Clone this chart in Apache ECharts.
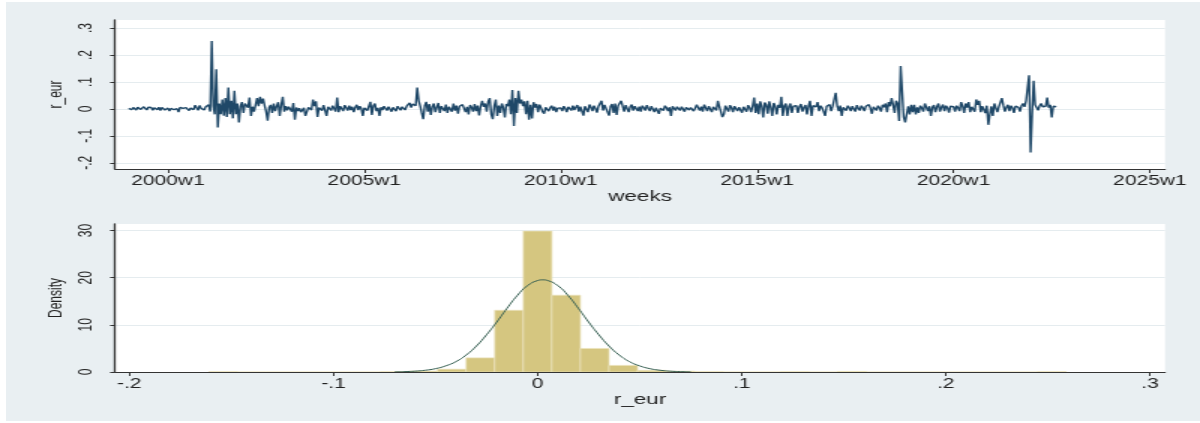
<!DOCTYPE html>
<html>
<head>
<meta charset="utf-8">
<script src="https://cdn.jsdelivr.net/npm/echarts@6/dist/echarts.min.js"></script>
<style>
  html, body { margin: 0; padding: 0; background: #fff; }
  #panel { position: absolute; left: 6px; top: 2px; width: 1194px; height: 419px; background: #e9eff2; }
  /* the reference is a horizontally stretched Stata export, so the chart is drawn narrow and widened */
  #chart { position: absolute; left: 0; top: 0; width: 800px; height: 423px; transform: scaleX(1.5); transform-origin: 0 0; }
</style>
</head>
<body>
<div id="panel"></div>
<div id="chart"></div>
<script>
// weekly EUR returns, every 2nd week, 1999w1 .. 2022w33
const startWeek = 2028 // 1999w1 in Stata %tw units
const stepWeeks = 2
const r_eur = [
  // 1999
  .002,.004,-.003,.005,.001,-.004,.006,.002,-.002,.003,.008,.004,-.004,.006,.012,.005,-.005,.004,.007,-.003,.006,-.006,.005,.002,-.004,.003,
  // 2000
  .003,-.008,.002,.005,-.003,.004,.001,-.012,.006,.012,.002,-.004,.005,.001,-.006,.003,.002,-.003,.014,.004,-.005,.013,.002,.006,-.004,.008,
  // 2001
  .006,.015,-.01,.252,.01,-.02,.147,-.069,.02,-.02,.035,-.025,.04,-.03,.079,-.02,.03,-.035,.067,-.02,.02,-.05,.01,.025,-.015,.02,
  // 2002
  .018,.005,.042,-.026,.008,-.01,.015,.04,.01,.045,.02,.038,.012,-.01,-.044,.005,.015,-.015,.02,-.008,.01,.025,-.026,.015,.045,-.01,
  // 2003
  .01,-.005,.008,.012,-.01,.022,-.04,.005,-.008,.003,-.012,-.005,.004,-.026,-.01,.006,.012,-.004,.035,.01,.028,-.03,.005,.012,-.006,.014,
  // 2004
  .016,-.026,.008,.004,-.006,.012,.002,-.01,.042,-.012,.01,.006,-.008,.014,.004,-.006,.012,-.004,.008,-.012,.006,.015,-.004,.01,.002,-.026,
  // 2005
  .004,.008,-.006,.01,.026,-.022,.012,.02,-.008,.004,-.026,.006,-.004,.01,.003,-.006,.008,.004,-.01,.006,.002,-.008,.01,.004,-.005,.008,
  // 2006
  .006,-.004,.01,.015,.022,.005,.018,.025,.012,.079,.03,.01,-.015,-.038,.012,.026,-.01,.018,-.022,.008,.02,-.012,.006,.022,-.015,.01,
  // 2007
  .012,-.008,.016,-.015,.008,.014,-.01,.02,-.006,.012,-.018,.01,.004,.016,.022,-.012,.008,-.02,.014,.006,-.01,.018,-.008,.012,-.024,.01,
  // 2008
  .03,.008,.02,-.01,.028,.04,-.02,-.038,.01,.035,-.026,.012,-.015,.02,.005,-.032,.018,.01,.035,-.02,.07,-.063,.04,-.015,.067,.02,
  // 2009
  .035,.01,.028,-.02,.03,-.04,.015,-.035,.025,.005,.018,-.012,.016,.004,-.01,-.018,.006,.01,-.008,.004,.012,-.006,.008,-.012,.003,.01,
  // 2010
  .004,-.008,.01,.002,-.012,.008,.005,-.006,.012,-.004,.006,.014,-.01,.008,.015,-.025,.01,.004,-.012,.016,.006,-.008,.012,.002,-.014,.01,
  // 2011
  .012,.03,-.006,.015,.008,-.012,-.025,.01,.018,-.015,.02,-.022,.012,.006,.03,.024,-.01,.014,.02,-.012,.008,.016,-.006,.01,.012,-.008,
  // 2012
  .008,-.01,.012,.004,-.006,.014,.002,-.008,.01,.006,-.012,.004,.008,-.018,.003,.01,-.006,.012,.004,-.008,.006,-.026,.01,.004,-.006,.008,
  // 2013
  .004,-.006,.008,.002,-.01,.006,.01,-.004,.005,.012,-.008,.003,.016,.004,-.006,.008,-.01,.016,.004,-.008,.01,.006,-.012,.008,.014,-.006,
  // 2014
  .03,.008,-.01,-.03,-.02,.012,.006,-.01,.014,.004,-.012,.01,.015,-.008,.006,.012,-.014,.008,.01,-.01,.014,.004,-.012,.01,.042,-.015,
  // 2015
  .02,-.02,.028,.01,-.032,.024,.015,-.018,.028,.006,-.026,.022,.01,-.02,.015,.004,.045,-.026,.012,.02,-.026,.008,.02,-.015,.01,.006,
  // 2016
  .012,-.015,.008,.018,-.01,.006,.014,-.02,.01,.03,-.026,.012,.006,.008,.025,-.008,.012,.004,-.01,-.026,.01,.006,.016,-.008,.01,.004,
  // 2017
  .06,.01,-.008,.012,-.026,.006,.01,-.006,.012,.004,-.008,.01,.006,-.01,.014,.002,-.006,.012,.004,-.008,.01,.006,.016,.002,-.018,.008,
  // 2018
  .008,-.006,.012,.004,-.01,.015,.006,.02,-.012,.025,.01,.04,.015,-.015,.03,.02,-.045,.159,.063,-.03,-.05,-.055,.01,-.02,.015,-.012,
  // 2019
  .015,-.02,.006,-.015,.012,.004,-.01,.02,.018,-.008,.01,-.026,.006,.014,-.012,.008,.02,-.01,.006,.016,-.008,.012,.004,-.014,.01,.006,
  // 2020
  .008,-.01,.012,.004,-.008,.025,.01,-.015,.02,.005,.025,-.012,.008,.004,-.01,.035,.015,.03,-.012,.01,.006,-.015,.012,-.059,-.02,.01,
  // 2021
  -.026,.02,.004,-.012,.008,.01,.04,.012,-.01,.006,.015,-.008,.012,.004,-.015,.01,.016,.006,-.01,.012,.02,.008,.03,.025,.125,-.162,
  // 2022
  -.02,.104,.015,.01,-.005,.012,.02,.008,.015,.01,.042,.005,.015,-.032,.01,.004,.008
]
const weekTicks = [2080, 2340, 2600, 2860, 3120, 3380] // 2000w1 .. 2025w1
const rTicks = [-0.2, -0.1, 0, 0.1, 0.2, 0.3]

// histogram of r_eur: 30 bins
const binStart = -0.161
const binWidth = 0.014
const binDensity = [
  0.06, 0, 0, 0, 0, 0, 0.06, 0.2, 0.6, 3.0,
  13.1, 29.9, 16.3, 5.0, 1.4, 0.35, 0.17, 0.06, 0, 0,
  0.06, 0, 0.12, 0, 0, 0, 0, 0, 0, 0.06
]
const densityTicks = [0, 10, 20, 30]
const histTicks = [-0.2, -0.1, 0, 0.1, 0.2, 0.3]

// normal density overlay
const normX = [-0.07, -0.065, -0.06, -0.055, -0.05, -0.045, -0.04, -0.035, -0.03, -0.025, -0.02, -0.015, -0.01, -0.005, 0, 0.0025,
  0.005, 0.01, 0.015, 0.02, 0.025, 0.03, 0.035, 0.04, 0.045, 0.05, 0.055, 0.06, 0.065, 0.07, 0.075]
const normY = [0.04, 0.08, 0.18, 0.37, 0.71, 1.3, 2.2, 3.6, 5.5, 7.9, 10.6, 13.5, 16.2, 18.3, 19.4, 19.55,
  19.4, 18.3, 16.2, 13.5, 10.6, 7.9, 5.5, 3.6, 2.2, 1.3, 0.71, 0.37, 0.18, 0.08, 0.04]

const font = 'Liberation Sans'
const ink = '#222'
const axisInk = '#333'
const gridInk = '#e5ecef'

const stataNum = (v) => (v === 0 ? '0' : String(+v.toFixed(2)).replace(/^(-?)0\./, '$1.'))
const weekLabel = (v) => {
  const y = Math.floor(v / 52)
  return `${1960 + y}w${v - y * 52 + 1}`
}

const chart = echarts.init(document.getElementById('chart'), null, { renderer: 'canvas' })

const plotLeft = 76.7
const plotWidth = 700

const option = {
  animation: false,
  textStyle: { fontFamily: font },
  grid: [
    { left: plotLeft, top: 20, width: plotWidth, height: 149, show: true, backgroundColor: '#fff', borderWidth: 0, outerBoundsMode: 'none' },
    { left: plotLeft, top: 224, width: plotWidth, height: 148, show: true, backgroundColor: '#fff', borderWidth: 0, outerBoundsMode: 'none' },
  ],
  xAxis: [
    {
      gridIndex: 0,
      type: 'value',
      min: 2010,
      max: 3400,
      name: 'weeks',
      nameLocation: 'middle',
      nameGap: 12,
      nameTextStyle: { fontSize: 15, color: ink, fontFamily: font },
      axisLine: { show: true, onZero: false, lineStyle: { color: axisInk, width: 1.2 } },
      axisTick: { show: true, customValues: weekTicks, length: 4, lineStyle: { color: axisInk } },
      axisLabel: { customValues: weekTicks, formatter: weekLabel, fontSize: 14, margin: 5, color: ink, fontFamily: font },
      splitLine: { show: false },
    },
    {
      gridIndex: 1,
      type: 'value',
      min: -0.207,
      max: 0.3074,
      z: 5,
      name: 'r_eur',
      nameLocation: 'middle',
      nameGap: 10,
      nameTextStyle: { fontSize: 15, color: ink, fontFamily: font },
      axisLine: { show: true, onZero: false, lineStyle: { color: axisInk, width: 1.2 } },
      axisTick: { show: true, customValues: histTicks, length: 4, lineStyle: { color: axisInk } },
      axisLabel: { customValues: histTicks, formatter: stataNum, fontSize: 14, margin: 5, color: ink, fontFamily: font },
      splitLine: { show: false },
    },
  ],
  yAxis: [
    {
      gridIndex: 0,
      type: 'value',
      min: -0.223,
      max: 0.33,
      name: 'r_eur',
      nameLocation: 'middle',
      nameRotate: 90,
      nameGap: 25,
      nameTextStyle: { fontSize: 12, color: ink, fontFamily: font },
      axisLine: { show: true, onZero: false, lineStyle: { color: axisInk, width: 1.3 } },
      axisTick: { show: true, customValues: rTicks, length: 3.3, lineStyle: { color: axisInk } },
      axisLabel: { customValues: rTicks, rotate: 90, formatter: stataNum, fontSize: 12, margin: 13, color: ink, fontFamily: font },
      splitLine: { show: true, lineStyle: { color: gridInk, width: 1 } },
    },
    {
      gridIndex: 1,
      type: 'value',
      min: 0,
      max: 31.4,
      name: 'Density',
      nameLocation: 'middle',
      nameRotate: 90,
      nameGap: 30,
      nameTextStyle: { fontSize: 12, color: ink, fontFamily: font },
      axisLine: { show: true, onZero: false, lineStyle: { color: axisInk, width: 1.3 } },
      axisTick: { show: true, customValues: densityTicks, length: 3.3, lineStyle: { color: axisInk } },
      axisLabel: { customValues: densityTicks, rotate: 90, fontSize: 12, margin: 13, color: ink, fontFamily: font },
      splitLine: { show: true, lineStyle: { color: gridInk, width: 1 } },
    },
  ],
  series: [
    {
      name: 'r_eur',
      type: 'line',
      xAxisIndex: 0,
      yAxisIndex: 0,
      showSymbol: false,
      lineStyle: { color: '#1f4868', width: 1.4 },
      data: r_eur.map((v, i) => [startWeek + i * stepWeeks, v]),
    },
    {
      name: 'hist',
      type: 'custom',
      xAxisIndex: 1,
      yAxisIndex: 1,
      encode: { x: [0, 1], y: 2 },
      data: binDensity.map((d, k) => [binStart + k * binWidth, binStart + (k + 1) * binWidth, d]),
      renderItem: (params, api) => {
        const p0 = api.coord([api.value(0), api.value(2)])
        const p1 = api.coord([api.value(1), 0])
        return {
          type: 'rect',
          shape: { x: p0[0], y: p0[1], width: p1[0] - p0[0], height: p1[1] - p0[1] },
          style: { fill: '#d5c680', stroke: '#ece4bf', lineWidth: 0.7 },
        }
      },
    },
    {
      name: 'normal',
      type: 'line',
      xAxisIndex: 1,
      yAxisIndex: 1,
      smooth: true,
      showSymbol: false,
      z: 4,
      lineStyle: { color: '#365f52', width: 1 },
      data: normX.map((x, i) => [x, normY[i]]),
    },
  ],
}

chart.setOption(option)
</script>
</body>
</html>
